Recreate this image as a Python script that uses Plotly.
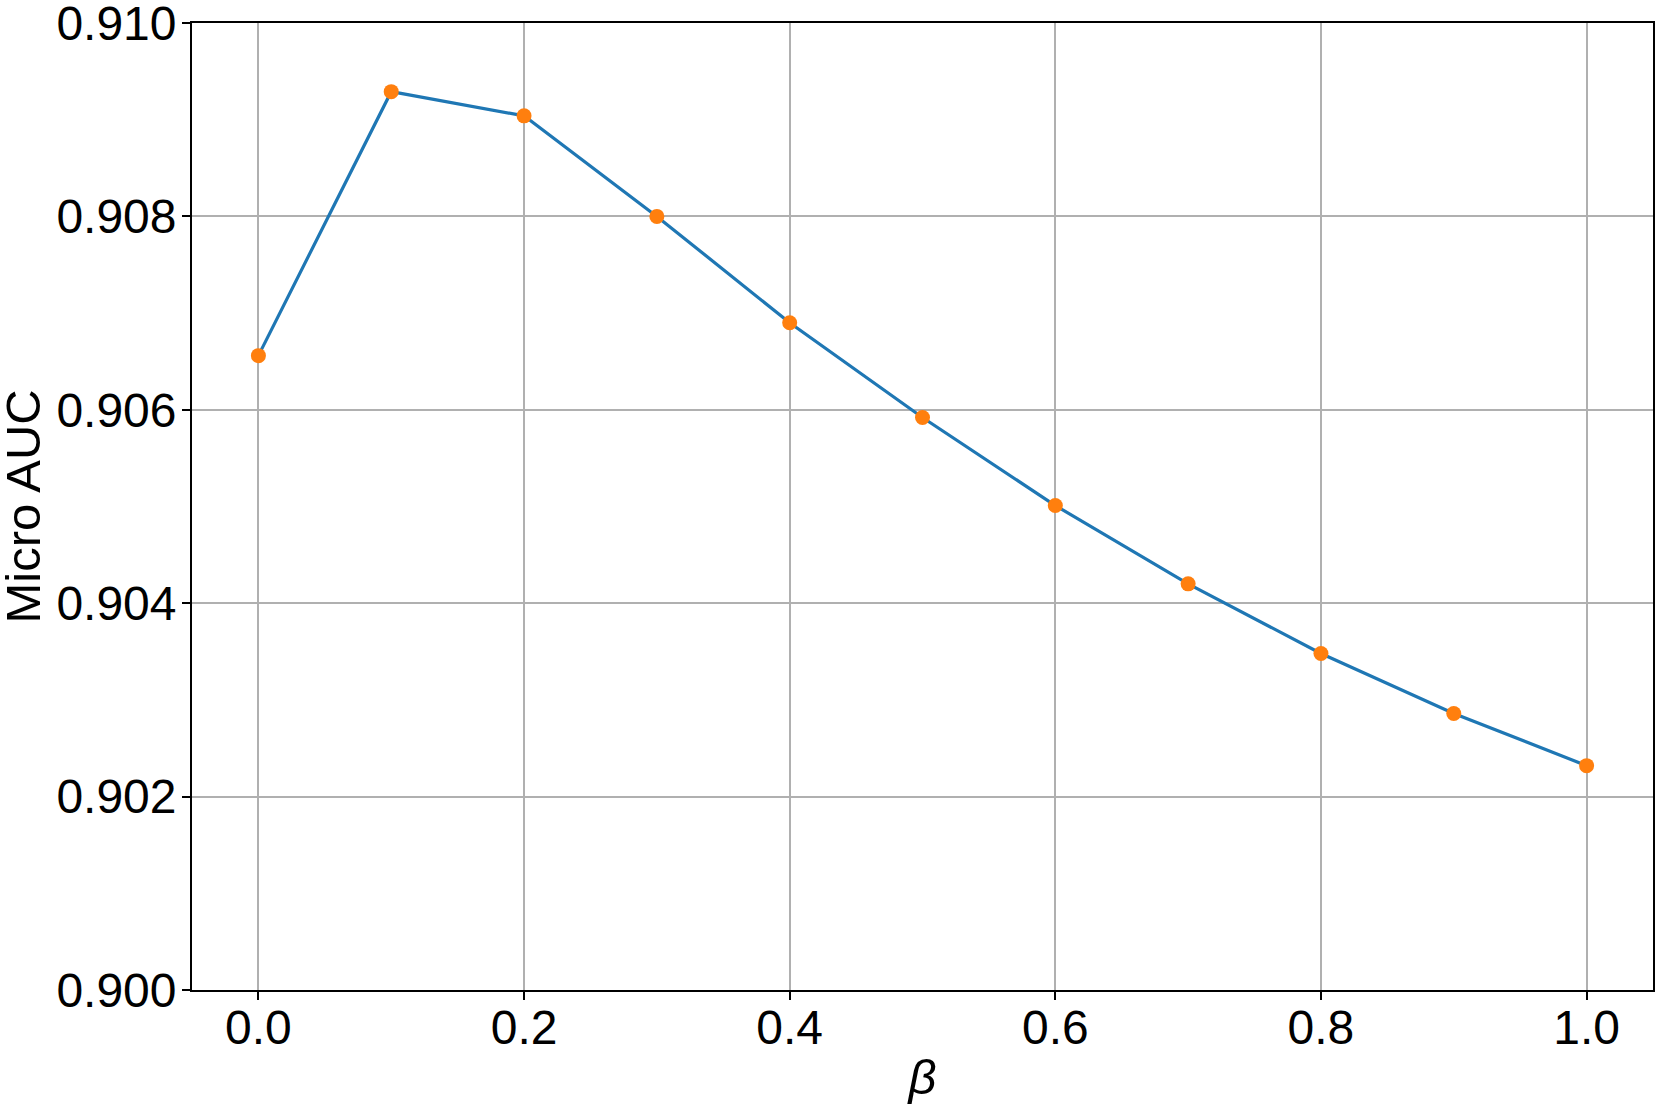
import plotly.graph_objects as go

# beta values and the micro AUC
beta = [0.0, 0.1, 0.2, 0.3, 0.4, 0.5, 0.6, 0.7, 0.8, 0.9, 1.0]
micro_auc = [0.90656, 0.90929, 0.90904, 0.90800, 0.90690, 0.90592,
             0.90501, 0.90420, 0.90348, 0.90286, 0.90232]

x_ticks = [0.0, 0.2, 0.4, 0.6, 0.8, 1.0]
y_ticks = [0.900, 0.902, 0.904, 0.906, 0.908, 0.910]

font_family = "Liberation Sans, Arial, sans-serif"

fig = go.Figure()

# line first, then markers on top (like plot + scatter in matplotlib)
fig.add_trace(go.Scatter(
    x=beta, y=micro_auc,
    mode="lines",
    line=dict(color="#1f77b4", width=3.2),
    showlegend=False,
))
fig.add_trace(go.Scatter(
    x=beta, y=micro_auc,
    mode="markers",
    marker=dict(color="#ff7f0e", size=15),
    showlegend=False,
))

axis_style = dict(
    showline=True,
    linecolor="black",
    linewidth=1.8,
    mirror=True,
    showgrid=True,
    gridcolor="#b0b0b0",
    gridwidth=1.5,
    zeroline=False,
    ticks="outside",
    ticklen=8,
    tickwidth=1.6,
    tickcolor="black",
    ticklabeloverflow="allow",
    tickfont=dict(family=font_family, size=48, color="black"),
)

fig.update_layout(
    width=1660,
    height=1112,
    margin=dict(l=192, r=7, t=23, b=122),
    paper_bgcolor="white",
    plot_bgcolor="white",
    font=dict(family=font_family, color="black"),
    xaxis=dict(
        range=[-0.05, 1.05],
        tickvals=x_ticks,
        tickformat=".1f",
        ticklabelstandoff=-14,
        title=dict(text="<i>β</i>", font=dict(family=font_family, size=49), standoff=7),
        automargin=False,
        **axis_style,
    ),
    yaxis=dict(
        range=[0.900, 0.910],
        tickvals=y_ticks,
        tickformat=".3f",
        ticklabelstandoff=-4,
        automargin=False,
        **axis_style,
    ),
)

# y label as a rotated annotation so it can sit right at the left edge
fig.add_annotation(
    text="Micro AUC",
    xref="paper", yref="paper",
    x=-0.1157, y=0.5,
    xanchor="center", yanchor="middle",
    textangle=-90,
    showarrow=False,
    font=dict(family=font_family, size=49, color="black"),
)

# drop the default body margin so the figure sits at the page corner
fig.write_html(
    "out.html",
    config={"displayModeBar": False},
    post_script="document.body.style.margin='0';",
)
